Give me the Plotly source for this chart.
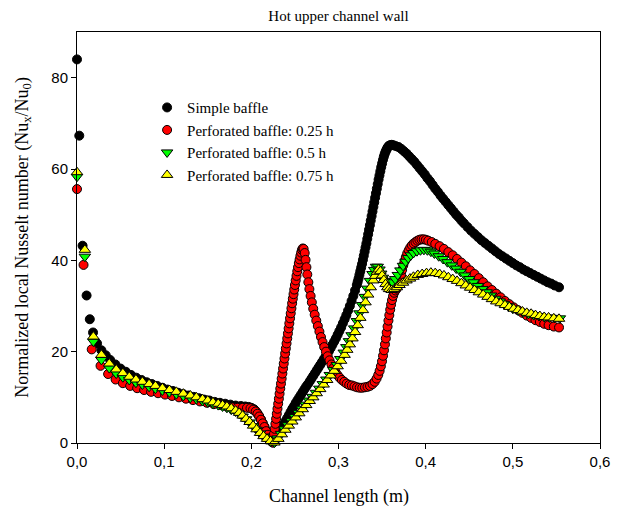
import plotly.graph_objects as go

# ---- data (x in m, y = Nu_x/Nu_0) ----
simple_baffle = [
    (0.0, 84.0), (0.0026, 67.3), (0.0064, 43.2), (0.011, 32.3), (0.0147, 27.1), (0.0184, 24.2),
    (0.023, 21.8), (0.028, 20.3), (0.033, 19.2), (0.038, 18.2), (0.044, 17.2), (0.050, 16.3),
    (0.056, 15.6), (0.062, 14.9), (0.068, 14.3), (0.074, 13.8), (0.080, 13.3), (0.086, 12.9),
    (0.092, 12.5), (0.098, 12.1), (0.104, 11.7), (0.110, 11.4), (0.116, 11.0), (0.122, 10.7),
    (0.128, 10.4), (0.134, 10.1), (0.140, 9.8), (0.146, 9.5), (0.152, 9.3), (0.158, 9.0),
    (0.164, 8.8), (0.170, 8.6), (0.176, 8.4), (0.182, 8.2), (0.188, 8.1), (0.193, 8.0),
    (0.197, 7.9), (0.200, 7.7), (0.203, 7.4), (0.205, 7.0), (0.207, 6.5), (0.209, 5.9),
    (0.211, 5.2), (0.213, 4.4), (0.215, 3.6), (0.217, 2.7), (0.219, 1.9), (0.221, 1.1),
    (0.223, 0.5), (0.225, 0.1), (0.227, 0.5), (0.229, 1.2), (0.231, 1.9), (0.233, 2.6),
    (0.235, 3.3), (0.237, 4.0), (0.239, 4.7), (0.241, 5.4), (0.243, 6.1), (0.245, 6.8),
    (0.247, 7.5), (0.249, 8.1), (0.251, 8.8), (0.253, 9.4), (0.255, 10.0), (0.257, 10.6),
    (0.259, 11.2), (0.261, 11.8), (0.263, 12.4), (0.265, 12.9), (0.267, 13.5), (0.269, 14.1),
    (0.271, 14.7), (0.273, 15.3), (0.275, 15.9), (0.277, 16.5), (0.279, 17.1), (0.281, 17.7),
    (0.283, 18.3), (0.285, 18.9), (0.287, 19.5), (0.289, 20.1), (0.291, 20.8), (0.293, 21.5),
    (0.295, 22.2), (0.297, 22.9), (0.299, 23.7), (0.301, 24.5), (0.303, 25.3), (0.305, 26.2),
    (0.307, 27.1), (0.309, 28.0), (0.311, 29.0), (0.313, 30.0), (0.315, 31.1), (0.317, 32.2),
    (0.319, 33.4), (0.321, 34.6), (0.322, 35.3), (0.323, 36.0), (0.324, 36.8), (0.325, 37.6),
    (0.326, 38.4), (0.327, 39.2), (0.328, 40.1), (0.329, 41.0), (0.330, 41.9), (0.331, 42.8),
    (0.332, 43.7), (0.333, 44.7), (0.334, 45.7), (0.335, 46.7), (0.336, 47.7), (0.337, 48.7),
    (0.338, 49.7), (0.339, 50.7), (0.340, 51.7), (0.341, 52.7), (0.342, 53.7), (0.343, 54.7),
    (0.344, 55.7), (0.345, 56.7), (0.346, 57.7), (0.347, 58.6), (0.348, 59.5), (0.349, 60.4),
    (0.350, 61.2), (0.351, 62.0), (0.352, 62.7), (0.353, 63.3), (0.354, 63.8), (0.355, 64.2),
    (0.356, 64.6), (0.357, 64.9), (0.358, 65.1), (0.359, 65.2), (0.361, 65.3), (0.363, 65.2),
    (0.366, 65.0), (0.369, 64.8), (0.372, 64.4), (0.375, 63.9), (0.378, 63.4), (0.381, 62.8),
    (0.384, 62.2), (0.387, 61.6), (0.390, 60.9), (0.393, 60.2), (0.396, 59.5), (0.399, 58.8),
    (0.402, 58.0), (0.405, 57.3), (0.408, 56.5), (0.411, 55.7), (0.414, 55.0), (0.417, 54.2),
    (0.420, 53.5), (0.423, 52.8), (0.426, 52.1), (0.429, 51.4), (0.432, 50.7), (0.435, 50.0),
    (0.438, 49.4), (0.441, 48.7), (0.444, 48.1), (0.448, 47.3), (0.452, 46.5), (0.456, 45.8),
    (0.460, 45.1), (0.464, 44.4), (0.468, 43.8), (0.472, 43.2), (0.476, 42.6), (0.480, 42.0),
    (0.484, 41.4), (0.488, 40.9), (0.492, 40.4), (0.496, 39.9), (0.500, 39.4), (0.504, 38.9),
    (0.508, 38.5), (0.512, 38.0), (0.516, 37.6), (0.520, 37.2), (0.524, 36.8), (0.528, 36.4),
    (0.532, 36.0), (0.536, 35.6), (0.540, 35.2), (0.544, 34.9), (0.548, 34.5), (0.553, 34.1),
]

perforated_025h = [
    (0.0, 55.6), (0.0075, 39.0), (0.0169, 20.5), (0.027, 16.9), (0.0357, 15.1), (0.0443, 13.9),
    (0.0526, 13.1), (0.061, 12.5), (0.069, 12.0), (0.077, 11.6), (0.085, 11.2), (0.093, 10.9),
    (0.101, 10.6), (0.109, 10.3), (0.117, 10.0), (0.125, 9.7), (0.133, 9.4), (0.141, 9.1),
    (0.149, 8.8), (0.157, 8.5), (0.165, 8.3), (0.172, 8.0), (0.178, 7.8), (0.184, 7.7),
    (0.190, 7.7), (0.195, 7.7), (0.199, 7.6), (0.202, 7.3), (0.205, 6.9), (0.207, 6.4),
    (0.209, 5.8), (0.211, 5.1), (0.213, 4.3), (0.215, 3.5), (0.217, 2.6), (0.219, 1.8),
    (0.221, 1.0), (0.223, 0.4), (0.2245, 0.1), (0.2252, 0.9), (0.2260, 2.0), (0.2268, 3.1),
    (0.2276, 4.2), (0.2284, 5.3), (0.2292, 6.4), (0.2300, 7.5), (0.2308, 8.6), (0.2316, 9.7),
    (0.2324, 10.8), (0.2332, 11.9), (0.2340, 13.0), (0.2348, 14.1), (0.2356, 15.2), (0.2364, 16.3),
    (0.2372, 17.4), (0.2380, 18.5), (0.2388, 19.6), (0.2396, 20.7), (0.2404, 21.8), (0.2412, 22.9),
    (0.2420, 24.0), (0.2428, 25.1), (0.2436, 26.2), (0.2444, 27.3), (0.2452, 28.4), (0.2460, 29.5),
    (0.2468, 30.6), (0.2476, 31.6), (0.2484, 32.6), (0.2492, 33.6), (0.2500, 34.6), (0.2509, 35.6),
    (0.2518, 36.6), (0.2527, 37.6), (0.2536, 38.5), (0.2545, 39.4), (0.2554, 40.2), (0.2563, 41.0),
    (0.2572, 41.7), (0.2581, 42.3), (0.2590, 42.6), (0.2600, 42.5), (0.2612, 41.6), (0.2622, 40.1),
    (0.2632, 38.5), (0.2642, 36.9), (0.2654, 35.2), (0.2666, 33.7), (0.2680, 32.2), (0.2694, 30.8),
    (0.2710, 29.4), (0.2727, 28.1), (0.2745, 26.8), (0.2763, 25.6), (0.2781, 24.4), (0.2799, 23.2),
    (0.2817, 22.1), (0.2836, 21.0), (0.2856, 20.0), (0.2876, 19.0), (0.2897, 18.1), (0.2919, 17.2),
    (0.2941, 16.4), (0.2964, 15.6), (0.2988, 14.9), (0.3013, 14.3), (0.3039, 13.8), (0.3066, 13.4),
    (0.3094, 13.0), (0.3123, 12.7), (0.3153, 12.6), (0.3183, 12.4), (0.3213, 12.2), (0.3243, 12.1),
    (0.3273, 12.1), (0.3303, 12.2), (0.3333, 12.3), (0.3362, 12.5), (0.3390, 12.9), (0.3415, 13.4),
    (0.3437, 14.1), (0.3456, 14.9), (0.3472, 15.8), (0.3486, 16.8), (0.3499, 17.9), (0.3511, 19.1),
    (0.3522, 20.3), (0.3533, 21.6), (0.3543, 22.9), (0.3553, 24.2), (0.3563, 25.5), (0.3573, 26.8),
    (0.3583, 28.0), (0.3593, 29.2), (0.3603, 30.3), (0.3614, 31.3), (0.3626, 32.2), (0.3639, 32.9),
    (0.3653, 33.4), (0.3667, 33.8), (0.3681, 34.3), (0.3694, 35.0), (0.3706, 35.9), (0.3718, 36.9),
    (0.3730, 37.9), (0.3743, 38.9), (0.3757, 39.8), (0.3772, 40.7), (0.3788, 41.5), (0.3805, 42.2),
    (0.3823, 42.8), (0.3842, 43.3), (0.3862, 43.7), (0.3883, 44.0), (0.3905, 44.3), (0.3928, 44.5),
    (0.3952, 44.6), (0.3977, 44.6), (0.4003, 44.5), (0.403, 44.3), (0.407, 44.0), (0.411, 43.6),
    (0.416, 43.1), (0.421, 42.5), (0.426, 41.8), (0.431, 41.1), (0.436, 40.3), (0.441, 39.5),
    (0.446, 38.7), (0.451, 37.8), (0.456, 37.0), (0.461, 36.1), (0.466, 35.2), (0.471, 34.3),
    (0.476, 33.5), (0.481, 32.7), (0.486, 31.9), (0.491, 31.1), (0.496, 30.4), (0.501, 29.7),
    (0.506, 29.1), (0.511, 28.5), (0.516, 27.9), (0.521, 27.4), (0.526, 26.9), (0.531, 26.5),
    (0.536, 26.1), (0.541, 25.8), (0.547, 25.5), (0.553, 25.3),
]

perforated_05h = [
    (0.0, 58.3), (0.009, 40.8), (0.0188, 22.2), (0.028, 18.2), (0.037, 16.4), (0.045, 15.2),
    (0.0526, 14.4), (0.060, 13.8), (0.0676, 13.2), (0.075, 12.8), (0.0827, 12.3), (0.090, 11.9),
    (0.098, 11.5), (0.106, 11.1), (0.114, 10.7), (0.122, 10.3), (0.130, 9.9), (0.137, 9.6),
    (0.144, 9.2), (0.150, 8.9), (0.156, 8.6), (0.162, 8.3), (0.167, 8.0), (0.172, 7.7),
    (0.177, 7.3), (0.182, 6.9), (0.186, 6.4), (0.190, 5.8), (0.194, 5.2), (0.198, 4.5),
    (0.202, 3.7), (0.206, 2.9), (0.210, 2.1), (0.214, 1.4), (0.218, 0.8), (0.222, 0.3),
    (0.2265, 0.1), (0.230, 1.0), (0.234, 2.0), (0.238, 3.0), (0.242, 3.9), (0.246, 4.8),
    (0.250, 5.7), (0.254, 6.6), (0.258, 7.5), (0.262, 8.4), (0.266, 9.3), (0.270, 10.1),
    (0.274, 11.0), (0.278, 11.9), (0.282, 12.9), (0.286, 13.9), (0.290, 14.9), (0.294, 16.0),
    (0.298, 17.1), (0.302, 18.4), (0.306, 19.8), (0.309, 21.0), (0.312, 22.3), (0.315, 23.6),
    (0.318, 25.1), (0.321, 26.7), (0.324, 28.4), (0.327, 30.2), (0.330, 32.0), (0.333, 33.8),
    (0.336, 35.5), (0.339, 37.0), (0.341, 37.9), (0.343, 38.6), (0.345, 38.6), (0.347, 38.0),
    (0.349, 37.1), (0.351, 36.2), (0.353, 35.5), (0.356, 35.0), (0.359, 34.9), (0.362, 35.2),
    (0.365, 35.9), (0.368, 36.8), (0.371, 37.8), (0.374, 38.8), (0.377, 39.7), (0.380, 40.5),
    (0.383, 41.1), (0.386, 41.6), (0.390, 42.0), (0.394, 42.2), (0.398, 42.3), (0.402, 42.2),
    (0.406, 41.9), (0.410, 41.5), (0.415, 40.9), (0.420, 40.3), (0.425, 39.6), (0.430, 38.9),
    (0.435, 38.2), (0.440, 37.5), (0.445, 36.7), (0.450, 35.9), (0.455, 35.2), (0.460, 34.4),
    (0.465, 33.7), (0.470, 33.0), (0.475, 32.3), (0.480, 31.6), (0.485, 31.0), (0.490, 30.4),
    (0.495, 29.9), (0.500, 29.4), (0.506, 29.0), (0.512, 28.6), (0.518, 28.3), (0.524, 28.0),
    (0.530, 27.8), (0.536, 27.6), (0.542, 27.5), (0.548, 27.4), (0.554, 27.3),
]

perforated_075h = [
    (0.0, 59.3), (0.009, 42.3), (0.0188, 23.3), (0.028, 19.3), (0.037, 17.4), (0.045, 16.1),
    (0.0526, 15.3), (0.060, 14.5), (0.0676, 13.9), (0.075, 13.4), (0.0827, 12.9), (0.090, 12.5),
    (0.098, 12.0), (0.106, 11.6), (0.114, 11.2), (0.122, 10.8), (0.130, 10.4), (0.137, 10.0),
    (0.144, 9.6), (0.150, 9.3), (0.156, 8.9), (0.162, 8.6), (0.167, 8.3), (0.172, 8.0),
    (0.177, 7.6), (0.182, 7.1), (0.186, 6.6), (0.190, 6.0), (0.194, 5.3), (0.198, 4.6),
    (0.202, 3.8), (0.206, 3.0), (0.210, 2.2), (0.214, 1.5), (0.218, 0.9), (0.222, 0.4),
    (0.2265, 0.1), (0.231, 0.9), (0.235, 1.9), (0.239, 2.9), (0.243, 3.8), (0.247, 4.7),
    (0.251, 5.6), (0.255, 6.5), (0.259, 7.4), (0.263, 8.3), (0.267, 9.2), (0.271, 10.0),
    (0.275, 10.9), (0.279, 11.8), (0.283, 12.8), (0.287, 13.8), (0.291, 14.8), (0.295, 15.8),
    (0.299, 16.8), (0.303, 18.0), (0.307, 19.3), (0.310, 20.4), (0.313, 21.6), (0.316, 22.9),
    (0.319, 24.3), (0.322, 25.8), (0.325, 27.4), (0.328, 29.1), (0.331, 30.8), (0.334, 32.5),
    (0.337, 34.1), (0.340, 35.6), (0.342, 36.6), (0.344, 37.5), (0.346, 38.0), (0.348, 37.6),
    (0.350, 36.7), (0.352, 35.7), (0.354, 34.8), (0.356, 34.1), (0.358, 33.7), (0.361, 33.5),
    (0.364, 33.7), (0.367, 34.1), (0.370, 34.6), (0.374, 35.1), (0.378, 35.6), (0.382, 36.0),
    (0.386, 36.4), (0.391, 36.8), (0.396, 37.0), (0.401, 37.2), (0.406, 37.3), (0.411, 37.2),
    (0.416, 37.0), (0.421, 36.7), (0.426, 36.3), (0.431, 35.9), (0.436, 35.5), (0.441, 35.0),
    (0.446, 34.5), (0.451, 34.0), (0.456, 33.5), (0.461, 33.0), (0.466, 32.5), (0.471, 32.0),
    (0.476, 31.5), (0.481, 31.0), (0.486, 30.6), (0.491, 30.2), (0.496, 29.8), (0.501, 29.4),
    (0.506, 29.1), (0.511, 28.8), (0.516, 28.5), (0.521, 28.3), (0.526, 28.0), (0.531, 27.8),
    (0.536, 27.6), (0.541, 27.5), (0.547, 27.3), (0.553, 27.2),
]

series_names = [
    "Simple baffle",
    "Perforated baffle: 0.25 h",
    "Perforated baffle: 0.5 h",
    "Perforated baffle: 0.75 h",
]
x_ticks = [0.0, 0.1, 0.2, 0.3, 0.4, 0.5, 0.6]
y_ticks = [0, 20, 40, 60, 80]

# ---- styling ----
styles = [
    dict(symbol="circle", color="#000000", size=9),
    dict(symbol="circle", color="#FF0000", size=9),
    dict(symbol="triangle-down", color="#00FF00", size=10),
    dict(symbol="triangle-up", color="#FFFF00", size=10),
]
datasets = [simple_baffle, perforated_025h, perforated_05h, perforated_075h]

SERIF = "Liberation Serif, Times New Roman, serif"
SANS = "Liberation Sans, Arial, sans-serif"

fig = go.Figure()
for name, data, st in zip(series_names, datasets, styles):
    xs = [p[0] for p in data]
    ys = [p[1] for p in data]
    fig.add_trace(go.Scatter(
        x=xs, y=ys, mode="markers", name=name, cliponaxis=False,
        marker=dict(symbol=st["symbol"], color=st["color"], size=st["size"],
                    line=dict(color="black", width=1)),
    ))

axis_common = dict(
    showline=True, linecolor="black", linewidth=1, mirror=True,
    ticks="outside", ticklen=5, tickwidth=1, tickcolor="black",
    showgrid=False, zeroline=False,
    tickfont=dict(family=SANS, size=15, color="black"),
)

fig.update_layout(
    width=622, height=515,
    margin=dict(l=77, r=12, t=32, b=72),
    paper_bgcolor="white", plot_bgcolor="white",
    separators=", ",
    showlegend=True,
    legend=dict(
        x=0.134, y=0.856, xanchor="left", yanchor="top",
        bgcolor="rgba(0,0,0,0)", borderwidth=0,
        font=dict(family=SERIF, size=15, color="black"),
        itemsizing="trace", tracegroupgap=0,
    ),
    title=dict(text="Hot upper channel wall", x=0.5, xref="paper", xanchor="center",
               y=1 - 16 / 515, yref="container", yanchor="middle",
               font=dict(family=SERIF, size=15, color="black")),
    xaxis=dict(range=[0, 0.6], tickvals=x_ticks, tickformat=".1f", **axis_common),
    yaxis=dict(range=[0, 90], tickvals=y_ticks, **axis_common),
    annotations=[
        dict(text="Channel length (m)", x=0.5, y=-0.131, xref="paper", yref="paper",
             xanchor="center", yanchor="middle", showarrow=False,
             font=dict(family=SERIF, size=18, color="black")),
        dict(text="Normalized local Nusselt number (Nu<sub>x</sub>/Nu<sub>0</sub>)",
             x=-0.103, y=0.5, xref="paper", yref="paper", textangle=-90,
             xanchor="center", yanchor="middle", showarrow=False,
             font=dict(family=SERIF, size=18, color="black")),
    ],
)

fig.write_html("out.html")
